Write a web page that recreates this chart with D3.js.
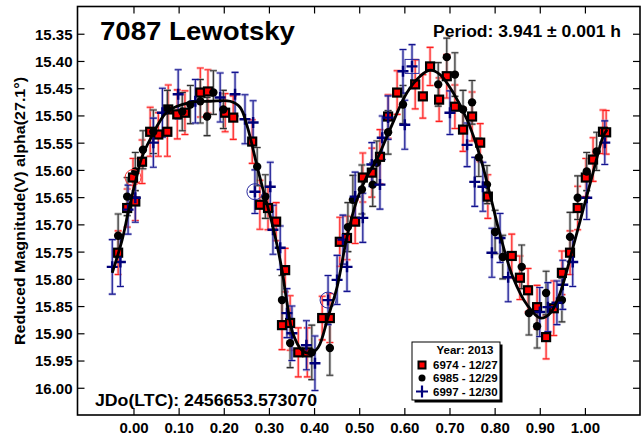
<!DOCTYPE html>
<html>
<head>
<meta charset="utf-8">
<script src="https://cdn.jsdelivr.net/npm/d3@7"></script>
<style>
  html, body { margin: 0; padding: 0; background: #fff; }
  svg { display: block; }
  text { font-family: "Liberation Sans", Arial, sans-serif; font-weight: bold; fill: #000; }
</style>
</head>
<body>
<svg id="chart" width="642" height="441"></svg>
<script>
// ---- data -------------------------------------------------------------
const title = "7087 Lewotsky";
const periodLabel = "Period: 3.941 \u00b1 0.001 h";
const epochLabel = "JDo(LTC): 2456653.573070";
const yAxisLabel = "Reduced Magnitude(V) alpha(27.1\u00b0)";
const legendTitle = "Year: 2013";
const sessionNames = ["6974 - 12/27", "6985 - 12/29", "6997 - 12/30"];

const xTickValues = [0, 0.1, 0.2, 0.3, 0.4, 0.5, 0.6, 0.7, 0.8, 0.9, 1.0];
const yTickValues = [15.35, 15.40, 15.45, 15.50, 15.55, 15.60, 15.65, 15.70,
                     15.75, 15.80, 15.85, 15.90, 15.95, 16.00];

// session 6974 (12/27): phase, reduced magnitude, error
const s6974Phase = [-0.034,-0.014,0.004,-0.001,0.019,0.037,0.055,0.075,0.077,0.097,0.114,0.148,0.165,0.203,0.221,0.263,0.280,0.298,0.316,0.336,0.329,0.347,0.365,0.385,0.418,0.435,0.457,0.473,0.491,0.508,0.528,0.546,0.564,0.584,0.624,0.641,0.657,0.677,0.694,0.712,0.730,0.750,0.768,0.785,0.838,0.856,0.874,0.894,0.914,0.931,0.949,0.967,0.984,1.002,1.018,1.040,1.047];
const s6974Mag   = [15.752,15.670,15.658,15.614,15.585,15.530,15.535,15.530,15.489,15.498,15.495,15.458,15.456,15.495,15.504,15.548,15.664,15.670,15.695,15.784,15.885,15.881,15.935,15.935,15.872,15.872,15.732,15.725,15.695,15.614,15.605,15.576,15.502,15.458,15.443,15.465,15.410,15.471,15.428,15.484,15.526,15.502,15.550,15.649,15.758,15.798,15.821,15.852,15.907,15.854,15.789,15.752,15.670,15.614,15.581,15.530,15.531];
const s6974Err   = [0.040,0.035,0.035,0.035,0.040,0.045,0.040,0.045,0.045,0.045,0.040,0.045,0.040,0.035,0.040,0.040,0.045,0.040,0.035,0.040,0.045,0.050,0.045,0.045,0.040,0.045,0.045,0.040,0.040,0.045,0.045,0.050,0.040,0.040,0.045,0.040,0.035,0.040,0.040,0.040,0.040,0.045,0.035,0.040,0.040,0.040,0.040,0.040,0.040,0.050,0.040,0.040,0.040,0.035,0.040,0.040,0.040];

// session 6985 (12/29)
const s6985Phase = [-0.034,-0.014,0.004,0.021,0.044,0.075,0.108,0.126,0.148,0.163,0.177,0.199,0.274,0.292,0.329,0.347,0.395,0.435,0.475,0.486,0.506,0.530,0.539,0.564,0.597,0.675,0.694,0.712,0.730,0.750,0.765,0.783,0.801,0.818,0.860,0.876,0.894,0.914,0.949,0.967,0.984,1.004,1.026];
const s6985Mag   = [15.721,15.649,15.603,15.563,15.530,15.489,15.493,15.480,15.474,15.502,15.458,15.489,15.594,15.649,15.839,15.918,15.935,15.927,15.705,15.655,15.636,15.627,15.587,15.531,15.480,15.443,15.393,15.425,15.489,15.476,15.577,15.627,15.714,15.760,15.778,15.863,15.887,15.826,15.839,15.723,15.651,15.603,15.566];
const s6985Err   = [0.040,0.035,0.035,0.035,0.040,0.035,0.035,0.035,0.040,0.035,0.040,0.035,0.035,0.040,0.045,0.045,0.050,0.050,0.045,0.045,0.045,0.040,0.040,0.040,0.035,0.040,0.035,0.040,0.035,0.040,0.035,0.035,0.040,0.040,0.040,0.040,0.040,0.040,0.040,0.045,0.040,0.035,0.035];

// session 6997 (12/30)
const s6997Phase = [-0.047,-0.029,-0.012,0.004,0.044,0.064,0.099,0.137,0.192,0.225,0.247,0.265,0.269,0.303,0.309,0.325,0.340,0.351,0.383,0.402,0.431,0.451,0.473,0.464,0.491,0.508,0.528,0.546,0.551,0.564,0.597,0.617,0.601,0.701,0.739,0.756,0.774,0.794,0.812,0.830,0.900,0.918,0.938,0.951,0.973,1.004,1.044];
const s6997Mag   = [15.778,15.769,15.673,15.651,15.550,15.495,15.461,15.474,15.467,15.461,15.507,15.513,15.640,15.631,15.710,15.743,15.863,15.900,15.922,15.955,15.839,15.802,15.778,15.728,15.649,15.688,15.590,15.627,15.541,15.504,15.419,15.410,15.517,15.495,15.554,15.622,15.631,15.752,15.725,15.797,15.861,15.852,15.844,15.811,15.769,15.651,15.550];
const s6997Err   = [0.050,0.045,0.045,0.045,0.045,0.045,0.045,0.040,0.045,0.040,0.045,0.040,0.040,0.045,0.045,0.040,0.045,0.050,0.045,0.050,0.045,0.045,0.045,0.045,0.045,0.045,0.040,0.045,0.040,0.040,0.040,0.040,0.045,0.040,0.040,0.045,0.045,0.045,0.045,0.045,0.045,0.045,0.040,0.045,0.045,0.040,0.040];

// highlighted observations (index into a session)
const ringedPoints = [
  { session: 0, index: 3, shape: "circle" },
  { session: 2, index: 12, shape: "circle" },
  { session: 2, index: 20, shape: "circle" },
  { session: 2, index: 31, shape: "square" }
];

// Fourier fit of the light curve
const fitPhase = [-0.047,-0.025,-0.012,0.004,0.019,0.037,0.075,0.126,0.170,0.214,0.236,0.252,0.274,0.287,0.309,0.329,0.340,0.353,0.373,0.391,0.409,0.431,0.451,0.473,0.495,0.517,0.539,0.568,0.606,0.635,0.657,0.679,0.708,0.739,0.768,0.790,0.812,0.841,0.872,0.901,0.923,0.945,0.974,0.996,1.018,1.040,1.049];
const fitMag   = [15.789,15.728,15.679,15.623,15.576,15.544,15.493,15.476,15.474,15.474,15.485,15.520,15.594,15.636,15.705,15.784,15.844,15.900,15.931,15.937,15.926,15.870,15.815,15.723,15.655,15.612,15.581,15.526,15.458,15.428,15.417,15.425,15.458,15.508,15.576,15.646,15.719,15.798,15.848,15.872,15.863,15.826,15.741,15.673,15.605,15.539,15.526];

// ---- layout -----------------------------------------------------------
const frame = { left: 77.5, right: 640, top: 6.5, bottom: 415 };
const svg = d3.select("#chart");

const x = d3.scaleLinear().domain([-0.124, 1.122]).range([frame.left, frame.right]);
const y = d3.scaleLinear().domain([15.30, 16.05]).range([frame.top, frame.bottom]);

const sessions = [
  { phase: s6974Phase, mag: s6974Mag, err: s6974Err, bar: "#ff2020", halo: "#ff9090" },
  { phase: s6985Phase, mag: s6985Mag, err: s6985Err, bar: "#303030", halo: "#a0a0a0" },
  { phase: s6997Phase, mag: s6997Mag, err: s6997Err, bar: "#141490", halo: "#9090d0" }
].map(s => ({ ...s, points: s.phase.map((p, i) => ({ p, m: s.mag[i], e: s.err[i] })) }));

// ---- axes (ticks point inward on all four sides) ------------------------
const tickLen = 7;
svg.append("g").attr("transform", `translate(0,${frame.bottom})`)
  .call(d3.axisBottom(x).tickValues(xTickValues).tickSize(-tickLen).tickPadding(7).tickFormat(d3.format(".2f")))
  .call(g => g.select(".domain").remove())
  .call(g => g.selectAll("text").attr("font-size", 15).attr("font-family", "Liberation Sans, Arial, sans-serif").attr("font-weight", "bold"));
svg.append("g").attr("transform", `translate(0,${frame.top})`)
  .call(d3.axisTop(x).tickValues(xTickValues).tickSize(-tickLen).tickFormat(""))
  .call(g => g.select(".domain").remove());
svg.append("g").attr("transform", `translate(${frame.left},0)`)
  .call(d3.axisLeft(y).tickValues(yTickValues).tickSize(-tickLen).tickPadding(5).tickFormat(d3.format(".2f")))
  .call(g => g.select(".domain").remove())
  .call(g => g.selectAll("text").attr("font-size", 15).attr("font-family", "Liberation Sans, Arial, sans-serif").attr("font-weight", "bold").attr("dy", "0.36em"));
svg.append("g").attr("transform", `translate(${frame.right},0)`)
  .call(d3.axisRight(y).tickValues(yTickValues).tickSize(-tickLen).tickFormat(""))
  .call(g => g.select(".domain").remove());
svg.selectAll(".tick line").attr("stroke", "#000").attr("stroke-width", 1.2);

svg.append("rect")
  .attr("x", frame.left).attr("y", frame.top)
  .attr("width", frame.right - frame.left).attr("height", frame.bottom - frame.top)
  .attr("fill", "none").attr("stroke", "#000").attr("stroke-width", 1.6);

// ---- error bars ---------------------------------------------------------
const cap = 3.5;
const bars = svg.append("g");
sessions.forEach(s => {
  const g = bars.append("g");
  [{ w: 2.8, c: s.halo, o: 0.6 }, { w: 1.1, c: s.bar, o: 1 }].forEach(st => {
    g.selectAll(null).data(s.points).enter().append("path")
      .attr("d", d => {
        const px = x(d.p), y1 = y(d.m - d.e), y2 = y(d.m + d.e);
        return `M${px},${y1}V${y2}M${px - cap},${y1}H${px + cap}M${px - cap},${y2}H${px + cap}`;
      })
      .attr("fill", "none").attr("stroke", st.c).attr("stroke-width", st.w).attr("stroke-opacity", st.o);
  });
});

// ---- markers ------------------------------------------------------------
const marks = svg.append("g");
marks.selectAll(null).data(sessions[0].points).enter().append("rect")
  .attr("x", d => x(d.p) - 4).attr("y", d => y(d.m) - 4)
  .attr("width", 8).attr("height", 8)
  .attr("fill", "#ff0000").attr("stroke", "#000").attr("stroke-width", 2.2);

marks.selectAll(null).data(sessions[1].points).enter().append("circle")
  .attr("cx", d => x(d.p)).attr("cy", d => y(d.m)).attr("r", 4.2)
  .attr("fill", "#000");

marks.selectAll(null).data(sessions[2].points).enter().append("path")
  .attr("d", d => { const px = x(d.p), py = y(d.m); return `M${px - 5.5},${py}H${px + 5.5}M${px},${py - 5.5}V${py + 5.5}`; })
  .attr("stroke", "#00007a").attr("stroke-width", 2.4).attr("fill", "none");

// highlight rings
const ringColors = ["#ff3030", "#303030", "#2a2aa0"];
ringedPoints.forEach(r => {
  const d = sessions[r.session].points[r.index];
  if (r.shape === "circle") {
    marks.append("circle").attr("cx", x(d.p)).attr("cy", y(d.m)).attr("r", 8)
      .attr("fill", "none").attr("stroke", ringColors[r.session]).attr("stroke-width", 1);
  } else {
    marks.append("rect").attr("x", x(d.p) - 7).attr("y", y(d.m) - 7).attr("width", 14).attr("height", 14)
      .attr("fill", "none").attr("stroke", ringColors[r.session]).attr("stroke-width", 1);
  }
});

// ---- fit curve ----------------------------------------------------------
svg.append("path")
  .datum(fitPhase.map((p, i) => [p, fitMag[i]]))
  .attr("d", d3.line().x(d => x(d[0])).y(d => y(d[1])).curve(d3.curveCatmullRom.alpha(0.5)))
  .attr("fill", "none").attr("stroke", "#000").attr("stroke-width", 2.8);

// ---- text ---------------------------------------------------------------
svg.append("text").attr("x", 100).attr("y", 40).attr("font-size", 26)
  .attr("textLength", 195).attr("lengthAdjust", "spacingAndGlyphs").text(title);
svg.append("text").attr("x", 433).attr("y", 37).attr("font-size", 16)
  .attr("textLength", 188).attr("lengthAdjust", "spacingAndGlyphs").text(periodLabel);
svg.append("text").attr("x", 95).attr("y", 406).attr("font-size", 16)
  .attr("textLength", 222).attr("lengthAdjust", "spacingAndGlyphs").text(epochLabel);
svg.append("text").attr("transform", "translate(25,211) rotate(-90)")
  .attr("text-anchor", "middle").attr("font-size", 14)
  .attr("textLength", 268).attr("lengthAdjust", "spacingAndGlyphs").text(yAxisLabel);

// ---- legend -------------------------------------------------------------
const lg = svg.append("g").attr("transform", "translate(412,342)");
lg.append("rect").attr("x", 2.5).attr("y", 2.5).attr("width", 88).attr("height", 58).attr("fill", "#000");
lg.append("rect").attr("x", 0).attr("y", 0).attr("width", 88).attr("height", 58)
  .attr("fill", "#fff").attr("stroke", "#000").attr("stroke-width", 1);
lg.append("text").attr("x", 53).attr("y", 12).attr("text-anchor", "middle").attr("font-size", 11.5).text(legendTitle);
const rowY = [23, 36, 49.5];
sessionNames.forEach((name, i) => {
  const cx = 10, cy = rowY[i];
  if (i === 0) {
    lg.append("rect").attr("x", cx - 3.5).attr("y", cy - 3.5).attr("width", 7).attr("height", 7)
      .attr("fill", "#ff0000").attr("stroke", "#000").attr("stroke-width", 2);
  } else if (i === 1) {
    lg.append("circle").attr("cx", cx).attr("cy", cy).attr("r", 3.5).attr("fill", "#000");
  } else {
    lg.append("path").attr("d", `M${cx - 6},${cy}H${cx + 6}M${cx},${cy - 6}V${cy + 6}`)
      .attr("stroke", "#00007a").attr("stroke-width", 2.2);
  }
  lg.append("text").attr("x", 21).attr("y", cy + 4).attr("font-size", 11.5).text(name);
});
</script>
</body>
</html>
